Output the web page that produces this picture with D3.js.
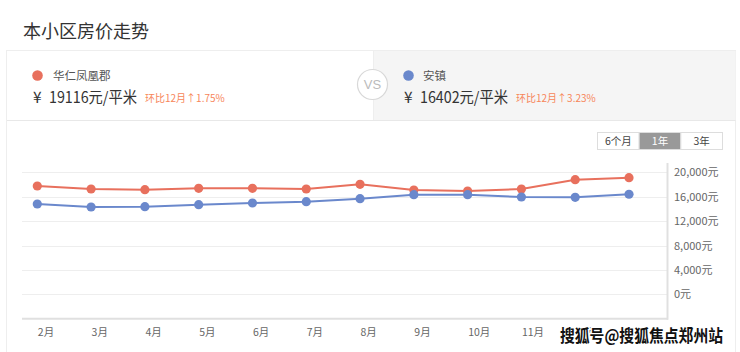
<!DOCTYPE html>
<html><head><meta charset="utf-8">
<script src="https://cdn.jsdelivr.net/npm/d3@7/dist/d3.min.js"></script>
<style>
body{margin:0;background:#fff;}
svg{display:block;font-family:"Noto Sans CJK SC","Noto Sans",sans-serif;}
</style></head>
<body>
<svg id="c" width="740" height="352"></svg>
<script>
const months = ["2月","3月","4月","5月","6月","7月","8月","9月","10月","11月","12月","1月"];
const seriesNames = ["华仁凤凰郡","安镇"];
const seriesColors = ["#e8705d","#6a88cc"];
const redValues = [17750,17260,17150,17370,17370,17260,18030,17100,16930,17260,18790,19116];
const blueValues = [14800,14310,14370,14690,14970,15190,15680,16330,16330,15950,15890,16402];
const yTicks = [0,4000,8000,12000,16000,20000];
const prices = ["19116","16402"];
const changes = ["环比12月↑1.75%","环比12月↑3.23%"];
const periods = ["6个月","1年","3年"];

const svg = d3.select("#c");

// title
svg.append("text").attr("x",23).attr("y",38).attr("font-size",18).attr("fill","#333").text("本小区房价走势");

// card
svg.append("rect").attr("x",6.5).attr("y",50.5).attr("width",729).attr("height",310).attr("fill","#fff").attr("stroke","#eee");
svg.append("rect").attr("x",373).attr("y",51).attr("width",362.5).attr("height",69).attr("fill","#f5f5f5");
svg.append("line").attr("x1",373.5).attr("x2",373.5).attr("y1",51).attr("y2",120).attr("stroke","#eee");
svg.append("line").attr("x1",7).attr("x2",735.5).attr("y1",120.5).attr("y2",120.5).attr("stroke","#e8e8e8");

// VS circle
svg.append("circle").attr("cx",372.5).attr("cy",84.5).attr("r",15).attr("fill","#fff").attr("stroke","#d8d8d8").attr("stroke-width",1.2);
svg.append("text").attr("x",372.5).attr("y",89).attr("text-anchor","middle").attr("font-size",13).attr("fill","#bbb").attr("font-family","Arial, 'Liberation Sans', sans-serif").text("VS");

// header legends
const hdr = [{dx:37.5,nx:53,px:33,cx:145},{dx:408.5,nx:423,px:404,cx:516}];
hdr.forEach((h,i)=>{
  svg.append("circle").attr("cx",h.dx).attr("cy",75.5).attr("r",5.3).attr("fill",seriesColors[i]);
  svg.append("text").attr("x",h.nx).attr("y",79.5).attr("font-size",11.5).attr("fill","#555").text(seriesNames[i]);
  svg.append("text").attr("x",h.px).attr("y",103).attr("font-size",15.5).attr("fill","#333").text("¥");
  svg.append("text").attr("x",h.px+16).attr("y",103).attr("font-size",15.5).attr("fill","#333")
    .attr("textLength",88).attr("lengthAdjust","spacingAndGlyphs").text(prices[i]+"元/平米");
  svg.append("text").attr("x",h.cx).attr("y",102).attr("font-size",10).attr("fill","#f7865a").text(changes[i]);
});

// period buttons
const bx = d3.scaleBand().domain(periods).range([597,722]);
const btn = svg.append("g");
periods.forEach((p,i)=>{
  const sel = p==="1年";
  btn.append("rect").attr("x",bx(p)+0.5).attr("y",132.5).attr("width",bx.bandwidth()).attr("height",17)
    .attr("fill",sel?"#999":"#fff").attr("stroke","#ddd");
  btn.append("text").attr("x",bx(p)+bx.bandwidth()/2+0.5).attr("y",145).attr("text-anchor","middle")
    .attr("font-size",10.5).attr("fill",sel?"#fff":"#444").text(p);
});

// scales
const x = d3.scalePoint().domain(months).range([37.3,629]);
const y = d3.scaleLinear().domain([0,20000]).range([294.3,172.3]);

// gridlines
svg.append("g").selectAll("line").data(yTicks).join("line")
  .attr("x1",22).attr("x2",667).attr("y1",d=>Math.round(y(d))+0.5).attr("y2",d=>Math.round(y(d))+0.5)
  .attr("stroke","#eee").attr("stroke-width",1);

// x baseline
svg.append("line").attr("x1",22).attr("x2",668).attr("y1",y(-4000)).attr("y2",y(-4000)).attr("stroke","#e0e0e0").attr("stroke-width",2);
// right axis line
svg.append("line").attr("x1",667.5).attr("x2",667.5).attr("y1",163).attr("y2",y(-4000)+1).attr("stroke","#e0e0e0").attr("stroke-width",2);

// y axis labels
const ya = svg.append("g").attr("transform","translate(668,0)")
  .call(d3.axisRight(y).tickValues(yTicks).tickSize(0).tickPadding(6).tickFormat(d=>d3.format(",")(d)+"元"));
ya.select(".domain").remove();
ya.selectAll("text").attr("font-size",11).attr("fill","#666").attr("font-family","'Noto Sans CJK SC',sans-serif");

// x labels
const xa = svg.append("g").attr("transform","translate(0,"+y(-4000)+")")
  .call(d3.axisBottom(x).tickSize(0).tickPadding(0));
xa.select(".domain").remove();
xa.selectAll("text").attr("text-anchor","start").attr("dy",0).attr("y",17).attr("font-size",10.5).attr("fill","#666").attr("font-family","'Noto Sans CJK SC',sans-serif");

// lines
const line = d3.line().x((d,i)=>x(months[i])).y(d=>y(d));
[redValues,blueValues].forEach((vals,i)=>{
  svg.append("path").attr("d",line(vals)).attr("fill","none").attr("stroke",seriesColors[i]).attr("stroke-width",2);
  svg.append("g").selectAll("circle").data(vals).join("circle")
    .attr("cx",(d,j)=>x(months[j])).attr("cy",d=>y(d)).attr("r",4.6).attr("fill",seriesColors[i]);
});

// watermark
svg.append("text").attr("x",560).attr("y",342).attr("font-size",17).attr("font-weight","bold")
  .attr("textLength",163).attr("lengthAdjust","spacingAndGlyphs")
  .attr("fill","#111").attr("stroke","#fff").attr("stroke-width",3).attr("paint-order","stroke")
  .text("搜狐号@搜狐焦点郑州站");
</script>
</body></html>
